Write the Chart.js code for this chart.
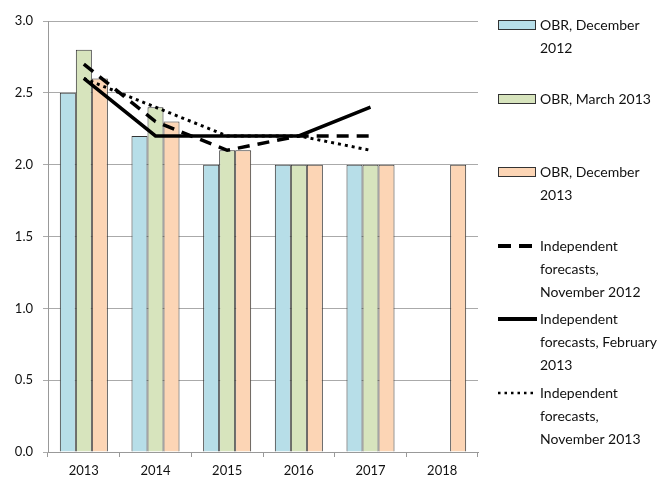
<!DOCTYPE html>
<html>
<head>
<meta charset="utf-8">
<script src="https://cdn.jsdelivr.net/npm/chart.js@4.4.0/dist/chart.umd.min.js"></script>
<style>
  html, body { margin: 0; padding: 0; background: #fff; }
  #wrap { width: 659px; height: 482px; position: relative; }
</style>
</head>
<body>
<div id="wrap"><canvas id="chart" width="659" height="482"></canvas></div>
<script>
// Years on the x axis
const years = ['2013', '2014', '2015', '2016', '2017', '2018'];

// OBR forecasts (bars)
const obrDec2012 = [2.5, 2.2, 2.0, 2.0, 2.0, null];
const obrMar2013 = [2.8, 2.4, 2.1, 2.0, 2.0, null];
const obrDec2013 = [2.6, 2.3, 2.1, 2.0, 2.0, 2.0];

// Independent forecasts (lines)
const indepNov2012 = [2.7, 2.3, 2.1, 2.2, 2.2, null];
const indepFeb2013 = [2.6, 2.2, 2.2, 2.2, 2.4, null];
const indepNov2013 = [2.6, 2.4, 2.2, 2.2, 2.1, null];

const yTicks = [0, 0.5, 1.0, 1.5, 2.0, 2.5, 3.0];

const textColor = '#111111';
const fontFamily = 'Lato, "Noto Sans", sans-serif';

// Split a legend label into lines that fit the given width
function wrapText(ctx, text, maxWidth) {
  const words = text.split(' ');
  const lines = [];
  let current = '';
  words.forEach(word => {
    const test = current ? current + ' ' + word : word;
    if (current && ctx.measureText(test).width > maxWidth) {
      lines.push(current);
      current = word;
    } else {
      current = test;
    }
  });
  if (current) lines.push(current);
  return lines;
}

// Legend drawn down the right-hand side
const sideLegend = {
  id: 'sideLegend',
  afterDraw(chart) {
    const ctx = chart.ctx;
    ctx.save();
    ctx.font = '14px ' + fontFamily;
    ctx.textBaseline = 'middle';
    chart.data.datasets.forEach((ds, i) => {
      const y = Math.round(25 + i * 73.6);
      if (ds.type === 'line') {
        ctx.strokeStyle = ds.borderColor;
        ctx.lineWidth = ds.legendWidth;
        ctx.setLineDash(ds.legendDash);
        ctx.beginPath();
        ctx.moveTo(498, y);
        ctx.lineTo(537, y);
        ctx.stroke();
        ctx.setLineDash([]);
      } else {
        ctx.fillStyle = ds.backgroundColor;
        ctx.fillRect(498.5, y - 4.5, 37, 9);
        ctx.strokeStyle = ds.borderColor;
        ctx.lineWidth = 1;
        ctx.strokeRect(498.5, y - 4.5, 37, 9);
      }
      ctx.fillStyle = textColor;
      wrapText(ctx, ds.label, 118).forEach((line, k) => {
        ctx.fillText(line, 540, y + k * 23);
      });
    });
    ctx.restore();
  }
};

const barStyle = {
  borderColor: '#333333',
  borderWidth: 1,
  categoryPercentage: 0.67,
  barPercentage: 1.0,
  order: 2
};

const lineStyle = {
  type: 'line',
  borderColor: '#000000',
  pointRadius: 0,
  fill: false,
  tension: 0,
  spanGaps: false,
  order: 1
};

new Chart(document.getElementById('chart'), {
  type: 'bar',
  data: {
    labels: years,
    datasets: [
      { ...barStyle, label: 'OBR, December 2012', data: obrDec2012, backgroundColor: '#b7dee8' },
      { ...barStyle, label: 'OBR, March 2013', data: obrMar2013, backgroundColor: '#d7e4bd' },
      { ...barStyle, label: 'OBR, December 2013', data: obrDec2013, backgroundColor: '#fcd5b5' },
      { ...lineStyle, label: 'Independent forecasts, November 2012', data: indepNov2012,
        borderWidth: 3.5, borderDash: [12, 8], legendDash: [13, 8], legendWidth: 4 },
      { ...lineStyle, label: 'Independent forecasts, February 2013', data: indepFeb2013,
        borderWidth: 3.5, borderDash: [], legendDash: [], legendWidth: 4 },
      { ...lineStyle, label: 'Independent forecasts, November 2013', data: indepNov2013,
        borderWidth: 3, borderDash: [3, 4], legendDash: [2.5, 4], legendWidth: 2.5 }
    ]
  },
  options: {
    responsive: false,
    animation: false,
    layout: { padding: { top: 21, right: 181, bottom: 0, left: 0 } },
    plugins: {
      legend: { display: false },
      tooltip: { enabled: false }
    },
    scales: {
      x: {
        offset: true,
        grid: { offset: true, drawOnChartArea: false, tickLength: 5, color: '#999999' },
        border: { color: '#999999' },
        ticks: { padding: 6, color: textColor, font: { family: fontFamily, size: 13 } },
        afterFit: scale => { scale.height = 30; }
      },
      y: {
        min: 0,
        max: 3,
        afterBuildTicks: scale => { scale.ticks = yTicks.map(v => ({ value: v })); },
        grid: { color: '#aaaaaa', tickLength: 5 },
        border: { color: '#999999' },
        ticks: {
          padding: 10,
          color: textColor,
          font: { family: fontFamily, size: 13 },
          callback: v => Number(v).toFixed(1)
        },
        afterFit: scale => { scale.width = 48; }
      }
    }
  },
  plugins: [sideLegend]
});
</script>
</body>
</html>
